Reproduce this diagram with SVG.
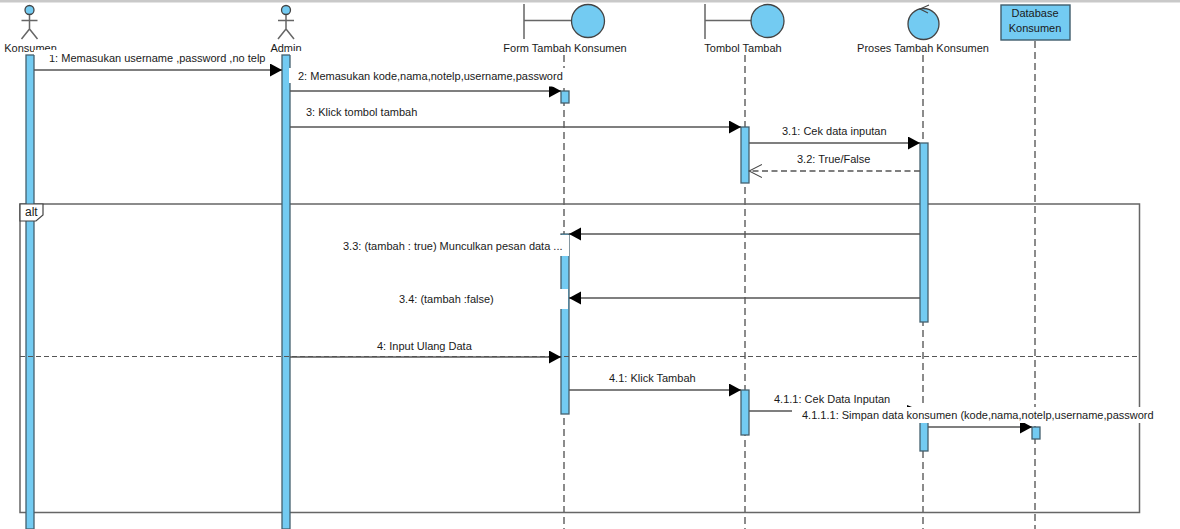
<svg xmlns="http://www.w3.org/2000/svg" width="1180" height="529" viewBox="0 0 1180 529">
<style>
text{font-family:"Liberation Sans",Arial,sans-serif;font-size:11px;fill:#1a1a1a}
.m{text-anchor:middle}
.ln{stroke:#666;stroke-width:1.5;fill:none}
.life{stroke:#666;stroke-width:1.5;stroke-dasharray:7 4;fill:none}
.act{fill:#73cbf2;stroke:#44606e;stroke-width:1.3}
.fig{fill:#73cbf2;stroke:#444;stroke-width:1.3}
.msg{stroke:#555;stroke-width:1.4;fill:none}
.wh{fill:#fff;stroke:none}
</style>
<defs>
<marker id="solid" markerUnits="userSpaceOnUse" markerWidth="14" markerHeight="14" refX="12" refY="6.5" orient="auto"><path d="M0 0L12 6.500L0 13Z" fill="#000"/></marker>
<marker id="open" markerUnits="userSpaceOnUse" markerWidth="14" markerHeight="14" refX="13" refY="6.5" orient="auto"><path d="M0 0L13 6.500L0 13" fill="none" stroke="#444" stroke-width="1.1"/></marker>
</defs>
<rect width="1180" height="529" fill="#fff"/>
<rect width="1180" height="2.500" fill="#c9c9c9"/>

<g id="lifelines">
<path class="life" d="M564 55V529M745 55V529M923 55V529M1035 41V529"/>
</g>

<g id="frame">
<path class="ln" d="M20 204H1139.500V512.500H20Z"/>
</g>

<g id="activations">
<rect class="act" x="26" y="55" width="8" height="474"/>
<rect class="act" x="282" y="55" width="8" height="474"/>
<rect class="act" x="561" y="91" width="8" height="12"/>
<rect class="act" x="741" y="127" width="8" height="56"/>
<rect class="act" x="920" y="143" width="8" height="179"/>
<rect class="act" x="561" y="234" width="8" height="180"/>
<rect class="act" x="741" y="390" width="8" height="45"/>
<rect class="act" x="920" y="415" width="8" height="36"/>
<rect class="act" x="1032" y="427" width="8" height="12"/>
</g>

<g id="frame-divider">
<path d="M20 356.500H1139.500" stroke="#555" stroke-width="1.2" stroke-dasharray="5 3" fill="none"/>
</g>

<g id="connectors">
<path class="msg" d="M34 70H282" marker-end="url(#solid)"/>
<path class="msg" d="M290 91H561" marker-end="url(#solid)"/>
<path class="msg" d="M290 127H741" marker-end="url(#solid)"/>
<path class="msg" d="M749 143H920" marker-end="url(#solid)"/>
<path class="msg" d="M920 171H749" stroke-dasharray="6 3.500" marker-end="url(#open)"/>
<path class="msg" d="M920 234H569" marker-end="url(#solid)"/>
<path class="msg" d="M920 298H569" marker-end="url(#solid)"/>
<path class="msg" d="M290 357H561" marker-end="url(#solid)"/>
<path class="msg" d="M569 390H741" marker-end="url(#solid)"/>
<path class="msg" d="M749 411H920"/>
<path class="msg" d="M928 427H1032" marker-end="url(#solid)"/>
</g>

<g id="labels">
<rect class="wh" x="289" y="68" width="4" height="15"/>
<text x="49" y="62">1: Memasukan username ,password ,no telp</text>
<rect class="wh" x="291" y="68" width="275" height="18.500"/>
<text x="298" y="80">2: Memasukan kode,nama,notelp,username,password</text>
<text x="306" y="116">3: Klick tombol tambah</text>
<text x="782" y="135">3.1: Cek data inputan</text>
<text x="797" y="163">3.2: True/False</text>
<rect class="wh" x="340" y="235" width="229" height="21"/>
<text x="343" y="250">3.3: (tambah : true) Munculkan pesan data ...</text>
<rect class="wh" x="396" y="289" width="172" height="20"/>
<text x="399" y="303">3.4: (tambah :false)</text>
<text x="377" y="350">4: Input Ulang Data</text>
<text x="609" y="382">4.1: Klick Tambah</text>
<text x="774" y="403">4.1.1: Cek Data Inputan</text>
<rect class="wh" x="792" y="407" width="363" height="16"/>
<path d="M907 405L912 407H907Z" fill="#000"/>
<text x="802" y="419">4.1.1.1: Simpan data konsumen (kode,nama,notelp,username,password</text>
</g>

<g id="alt-tag">
<path d="M20 204H43V215L36 221H20Z" fill="#fff" stroke="#444" stroke-width="1.2"/>
<text x="25" y="216" style="font-size:12px">alt</text>
</g>

<g id="konsumen">
<circle class="fig" cx="29.500" cy="10" r="4.500"/>
<path class="ln" d="M29.500 15V29M21.500 20.500H37.500M21.500 39L29.500 29L37.500 39"/>
<text class="m" x="30.500" y="52">Konsumen</text>
<rect class="wh" x="34" y="50" width="26" height="5"/>
</g>

<g id="admin">
<circle class="fig" cx="286" cy="10" r="4.500"/>
<path class="ln" d="M286 15V29M278 20.500H294M278 39L286 29L294 39"/>
<text class="m" x="286" y="52">Admin</text>
<rect class="wh" x="290" y="51" width="14" height="4"/>
</g>

<g id="form-tambah-konsumen">
<path class="ln" d="M524 4V39M524 20.500H571"/>
<circle class="fig" cx="588" cy="21" r="16.500"/>
<text class="m" x="565" y="52">Form Tambah Konsumen</text>
</g>

<g id="tombol-tambah">
<path class="ln" d="M705 4V39M705 20.500H752"/>
<circle class="fig" cx="767.500" cy="21" r="16.500"/>
<text class="m" x="743" y="52">Tombol Tambah</text>
</g>

<g id="proses-tambah-konsumen">
<circle class="fig" cx="923.500" cy="24" r="15.500"/>
<path d="M929 5L920 9L928 13" fill="none" stroke="#444" stroke-width="1.1"/>
<text class="m" x="923" y="52">Proses Tambah Konsumen</text>
</g>

<g id="database-konsumen">
<rect x="1001" y="5" width="69" height="35" fill="#73cbf2" stroke="#3f5c6b" stroke-width="1.4"/>
<text class="m" x="1035" y="17">Database</text>
<text class="m" x="1035" y="32">Konsumen</text>
</g>
</svg>
